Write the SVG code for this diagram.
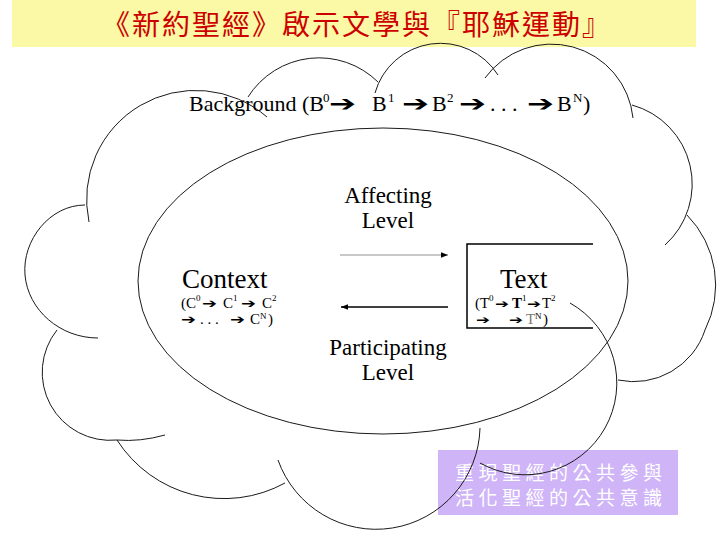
<svg xmlns="http://www.w3.org/2000/svg" width="720" height="540" viewBox="0 0 720 540">
<style>
.cl{fill:none;stroke:#1a1a1a;stroke-width:1}
.ar{font-family:'DejaVu Sans',sans-serif;fill:#000}
.cjk{font-family:'Noto Sans CJK TC','Noto Sans CJK SC',sans-serif}
</style>
<defs>
<marker id="ah" markerUnits="userSpaceOnUse" markerWidth="7" markerHeight="7" viewBox="0 0 7 7" refX="7" refY="3.5" orient="auto">
<path d="M0,0.8 L7,3.5 L0,6.2 z" fill="#000"/>
</marker>
</defs>
<rect width="720" height="540" fill="#fff"/>
<g id="title">
<rect x="12" y="0" width="684" height="47" fill="#fbf9a5"/>
<text x="357" y="35" class="cjk" font-size="28" letter-spacing="2" fill="#cc0000" text-anchor="middle">《新約聖經》啟示文學與『耶穌運動』</text>
</g>
<g id="note">
<rect x="438" y="450" width="240" height="65" fill="#cfb4f7"/>
<text class="cjk" font-size="19" letter-spacing="4.5" fill="#fff"><tspan x="455" y="480">重現聖經的公共參與</tspan><tspan x="455" y="505">活化聖經的公共意識</tspan></text>
</g>
<g id="cloud">
<path class="cl" d="M89,222 A109,109 0 0 1 267,117"/>
<path class="cl" d="M248,97 A84,84 0 0 1 378,82"/>
<path class="cl" d="M375,93 A68,68 0 0 1 498,75"/>
<path class="cl" d="M485,78 A82,82 0 0 1 633,118"/>
<path class="cl" d="M632,105 A82,82 0 0 1 665,245"/>
<path class="cl" d="M687,215 A100,100 0 0 1 705,330 A75,75 0 0 1 618,380"/>
<path class="cl" d="M570,303 A91,91 0 1 1 480,463"/>
<path class="cl" d="M480,428 A104,104 0 0 1 278,460"/>
<path class="cl" d="M285,483 A127,127 0 0 1 117,440"/>
<path class="cl" d="M165,435 Q140,442 117,440 A68,68 0 0 1 57,330"/>
<path class="cl" d="M85,205 C50,205 22,240 25,275 C28,310 60,338 98,338"/>
</g>
<g id="background-label" font-family="Liberation Serif, Times New Roman, DejaVu Serif, serif" fill="#000">
<text font-size="22"><tspan x="189" y="111">Background (B</tspan><tspan font-size="13" x="323" y="102">0</tspan><tspan x="372" y="111">B</tspan><tspan font-size="13" x="388" y="102">1</tspan><tspan x="432" y="111">B</tspan><tspan font-size="13" x="447" y="102">2</tspan><tspan x="490" y="111">. . .</tspan><tspan x="557" y="111">B</tspan><tspan font-size="13" x="573" y="102">N</tspan><tspan x="583" y="111">)</tspan></text>
<text class="ar" font-size="22" x="329" y="111" textLength="27" lengthAdjust="spacingAndGlyphs">➔</text>
<text class="ar" font-size="22" x="402" y="111" textLength="27" lengthAdjust="spacingAndGlyphs">➔</text>
<text class="ar" font-size="22" x="459" y="111" textLength="27" lengthAdjust="spacingAndGlyphs">➔</text>
<text class="ar" font-size="22" x="527" y="111" textLength="27" lengthAdjust="spacingAndGlyphs">➔</text>
</g>
<g id="context" font-family="Liberation Serif, Times New Roman, DejaVu Serif, serif" fill="#000">
<ellipse class="cl" cx="383" cy="281" rx="245" ry="153"/>
<text font-size="27" x="182" y="288">Context</text>
<text font-size="15"><tspan x="181" y="308">(C</tspan><tspan font-size="9" x="196" y="301">0</tspan><tspan x="223" y="308">C</tspan><tspan font-size="9" x="233" y="301">1</tspan><tspan x="262" y="308">C</tspan><tspan font-size="9" x="272" y="301">2</tspan></text>
<text font-size="15"><tspan x="200" y="324">. . .</tspan><tspan x="250" y="324">C</tspan><tspan font-size="9" x="260" y="319">N</tspan><tspan x="268" y="324">)</tspan></text>
<text class="ar" font-size="13" x="202" y="308" textLength="15" lengthAdjust="spacingAndGlyphs">➔</text>
<text class="ar" font-size="13" x="241" y="308" textLength="15" lengthAdjust="spacingAndGlyphs">➔</text>
<text class="ar" font-size="13" x="181" y="324" textLength="15" lengthAdjust="spacingAndGlyphs">➔</text>
<text class="ar" font-size="13" x="230" y="324" textLength="15" lengthAdjust="spacingAndGlyphs">➔</text>
</g>
<g id="text-node" font-family="Liberation Serif, Times New Roman, DejaVu Serif, serif" fill="#000">
<path d="M593,244 H467 V328 H593" fill="none" stroke="#000" stroke-width="1.5"/>
<text font-size="27" x="500" y="288">Text</text>
<text font-size="15"><tspan x="475" y="308">(T</tspan><tspan font-size="9" x="489" y="301">0</tspan><tspan font-weight="bold" x="512" y="308">T</tspan><tspan font-size="9" x="522" y="301">1</tspan><tspan x="542" y="308">T</tspan><tspan font-size="9" x="551" y="301">2</tspan></text>
<text font-size="15"><tspan fill="#777" x="526" y="324">T</tspan><tspan font-size="9" x="535" y="319">N</tspan><tspan x="543" y="324">)</tspan></text>
<text class="ar" font-size="12" x="495" y="308" textLength="14" lengthAdjust="spacingAndGlyphs">➔</text>
<text class="ar" font-size="12" x="527" y="308" textLength="14" lengthAdjust="spacingAndGlyphs">➔</text>
<text class="ar" font-size="12" x="476" y="324" textLength="14" lengthAdjust="spacingAndGlyphs">➔</text>
<text class="ar" font-size="12" x="509" y="324" textLength="14" lengthAdjust="spacingAndGlyphs">➔</text>
</g>
<g id="connectors" font-family="Liberation Serif, Times New Roman, DejaVu Serif, serif" fill="#000">
<line x1="340" y1="255" x2="448" y2="255" stroke="#c8c8c8" stroke-width="2" marker-end="url(#ah)"/>
<line x1="448" y1="307" x2="341" y2="307" stroke="#000" stroke-width="1.5" marker-end="url(#ah)"/>
<text font-size="23" text-anchor="middle"><tspan x="388" y="203">Affecting</tspan><tspan x="388" y="228">Level</tspan></text>
<text font-size="23" text-anchor="middle"><tspan x="388" y="355">Participating</tspan><tspan x="388" y="380">Level</tspan></text>
</g>
</svg>
